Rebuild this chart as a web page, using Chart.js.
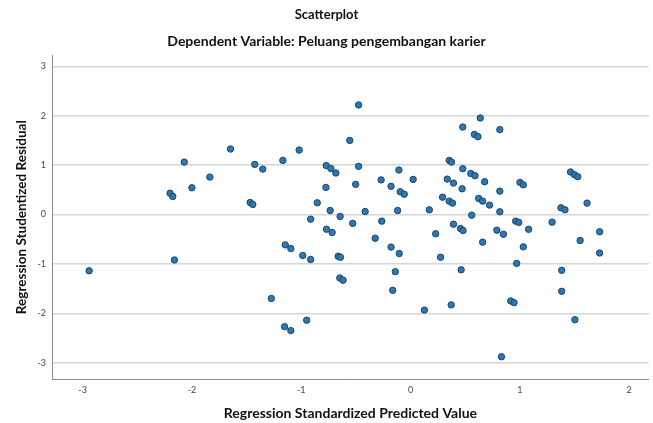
<!DOCTYPE html>
<html>
<head>
<meta charset="utf-8">
<script src="https://cdn.jsdelivr.net/npm/chart.js@4"></script>
<style>
  html, body { margin: 0; padding: 0; background: #fff; }
  #wrap { width: 653px; height: 423px; }
</style>
</head>
<body>
<div id="wrap"><canvas id="c"></canvas></div>
<script>
// predicted values (x) and studentized residuals (y)
const predicted = [
  -2.94, -2.20, -2.175, -2.16, -2.07, -2.00, -1.836, -1.647, -1.467, -1.443,
  -1.425, -1.352, -1.273, -1.168, -1.152, -1.146, -1.095, -1.095, -1.019, -0.986,
  -0.95, -0.914, -0.914, -0.853, -0.771, -0.774, -0.769, -0.735, -0.729, -0.717,
  -0.683, -0.662, -0.647, -0.644, -0.641, -0.617, -0.556, -0.529, -0.502, -0.475,
  -0.475, -0.415, -0.323, -0.269, -0.263, -0.178, -0.178, -0.163, -0.139, -0.118,
  -0.106, -0.103, -0.094, -0.057, 0.024, 0.127, 0.172, 0.23, 0.275, 0.293,
  0.336, 0.354, 0.375, 0.354, 0.372, 0.384, 0.393, 0.393, 0.457, 0.463,
  0.472, 0.478, 0.478, 0.481, 0.551, 0.56, 0.584, 0.59, 0.617, 0.623,
  0.638, 0.66, 0.66, 0.678, 0.723, 0.79, 0.817, 0.817, 0.817, 0.832,
  0.85, 0.917, 0.947, 0.962, 0.99, 0.971, 1.001, 1.032, 1.032, 1.08,
  1.295, 1.376, 1.413, 1.383, 1.383, 1.464, 1.50, 1.53, 1.504, 1.552,
  1.615, 1.73, 1.73
];
const residual = [
  -1.14, 0.43, 0.365, -0.92, 1.06, 0.54, 0.757, 1.325, 0.243, 0.203,
  1.014, 0.919, -1.70, 1.095, -2.27, -0.615, -0.69, -2.35, 1.304, -0.83,
  -2.14, -0.095, -0.91, 0.237, 0.99, 0.548, -0.298, 0.08, 0.93, -0.365,
  0.84, -0.845, -1.285, -0.04, -0.866, -1.33, 1.50, -0.18, 0.61, 2.217,
  0.974, 0.06, -0.48, 0.70, -0.135, 0.57, -0.66, -1.535, -1.157, 0.08,
  0.90, -0.79, 0.46, 0.41, 0.71, -1.935, 0.095, -0.39, -0.866, 0.35,
  0.716, 1.095, 1.06, 0.27, -1.83, 0.23, 0.635, -0.197, -0.284, -1.12,
  0.52, 1.77, 0.927, -0.325, 0.83, -0.014, 1.62, 0.785, 1.575, 0.325,
  1.953, 0.27, -0.56, 0.663, 0.19, -0.318, 1.718, 0.473, 0.055, -2.88,
  -0.40, -1.75, -1.785, -0.135, -0.16, -0.99, 0.65, 0.60, -0.655, -0.30,
  -0.155, 0.135, 0.095, -1.13, -1.555, 0.86, 0.805, 0.765, -2.13, -0.527,
  0.23, -0.35, -0.78
];
const xTicks = [-3, -2, -1, 0, 1, 2];
const yTicks = [-3, -2, -1, 0, 1, 2, 3];

const points = predicted.map((x, i) => ({ x: x, y: residual[i] }));

const fontFam = 'Lato, "Open Sans", sans-serif';

new Chart(document.getElementById('c'), {
  type: 'scatter',
  data: {
    datasets: [{
      data: points,
      backgroundColor: '#2d77b2',
      borderColor: '#1b4767',
      borderWidth: 1,
      pointRadius: 3.2,
      pointHoverRadius: 3.2
    }]
  },
  options: {
    responsive: true,
    maintainAspectRatio: false,
    animation: false,
    layout: { padding: 0 },
    plugins: {
      legend: { display: false },
      tooltip: { enabled: false },
      title: {
        display: true,
        text: 'Scatterplot',
        color: '#111',
        font: { family: fontFam, size: 13, weight: 'bold' },
        padding: { top: 7, bottom: 10 }
      },
      subtitle: {
        display: true,
        text: 'Dependent Variable: Peluang pengembangan karier',
        color: '#111',
        font: { family: fontFam, size: 14, weight: 'bold' },
        padding: { top: 0, bottom: 6 }
      }
    },
    scales: {
      x: {
        type: 'linear',
        min: -3.28,
        max: 2.18,
        afterBuildTicks: s => { s.ticks = xTicks.map(v => ({ value: v })); },
        afterFit: s => { s.height = 44; },
        grid: { display: false, drawTicks: false },
        border: { display: true, color: '#8a8a8a', width: 1 },
        ticks: {
          padding: 6,
          color: '#444',
          font: { family: fontFam, size: 9 }
        },
        title: {
          display: true,
          text: 'Regression Standardized Predicted Value',
          color: '#111',
          font: { family: fontFam, size: 14, weight: 'bold' },
          padding: { top: 0, bottom: 1 }
        }
      },
      y: {
        type: 'linear',
        min: -3.33,
        max: 3.22,
        afterBuildTicks: s => { s.ticks = yTicks.map(v => ({ value: v })); },
        afterFit: s => { s.width = 52; },
        grid: { color: '#d6d6d6', lineWidth: 1.5, drawTicks: false },
        border: { display: true, color: '#8a8a8a', width: 1 },
        ticks: {
          padding: 6,
          color: '#444',
          font: { family: fontFam, size: 9 }
        },
        title: {
          display: true,
          text: 'Regression Studentized Residual',
          color: '#111',
          font: { family: fontFam, size: 13.5, weight: 'bold' },
          padding: { top: 14, bottom: 0 }
        }
      }
    }
  }
});
</script>
</body>
</html>
